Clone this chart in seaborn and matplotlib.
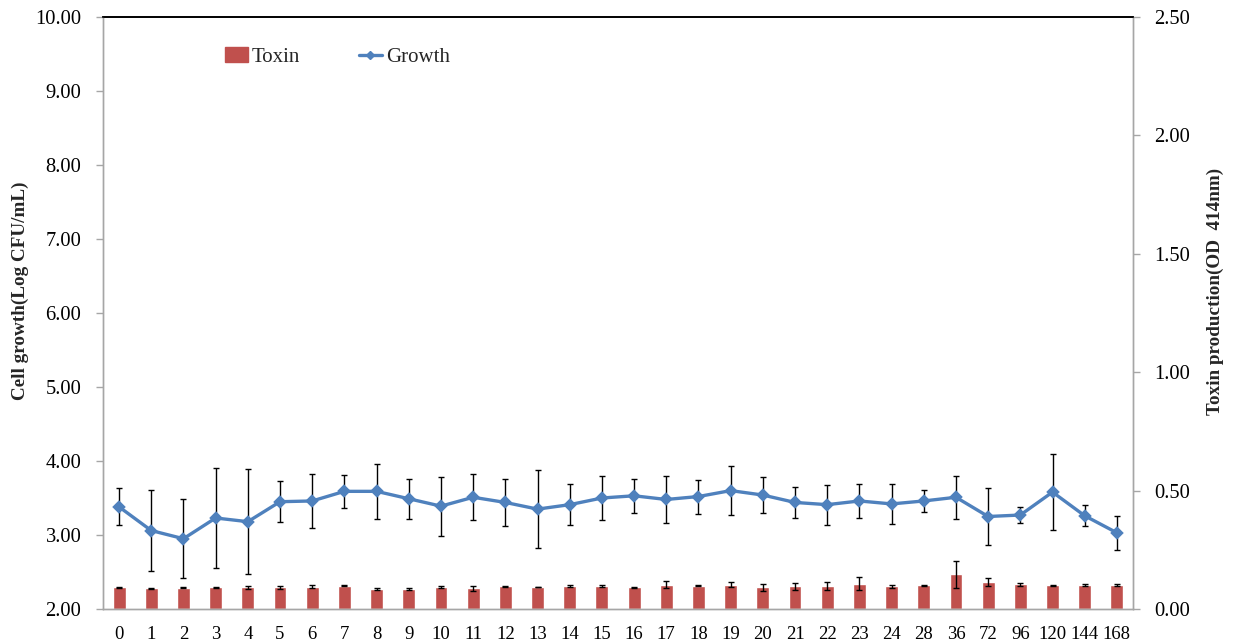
import matplotlib
matplotlib.use("Agg")
import matplotlib.pyplot as plt
from matplotlib.lines import Line2D
from matplotlib.patches import Patch
import numpy as np
import pandas as pd
import seaborn as sns

# Sampling times (h)
hours = ["0", "1", "2", "3", "4", "5", "6", "7", "8", "9", "10", "11", "12",
         "13", "14", "15", "16", "17", "18", "19", "20", "21", "22", "23",
         "24", "28", "36", "72", "96", "120", "144", "168"]

# Cell growth (Log CFU/mL), mean and standard deviation
growth = [3.38, 3.06, 2.95, 3.23, 3.18, 3.45, 3.46, 3.59, 3.59, 3.49, 3.39,
          3.51, 3.44, 3.35, 3.41, 3.50, 3.53, 3.48, 3.52, 3.60, 3.54, 3.44,
          3.41, 3.46, 3.42, 3.46, 3.51, 3.25, 3.27, 3.58, 3.26, 3.03]
growth_sd = [0.25, 0.55, 0.53, 0.68, 0.71, 0.28, 0.36, 0.22, 0.37, 0.27, 0.40,
             0.31, 0.32, 0.53, 0.28, 0.30, 0.23, 0.32, 0.23, 0.33, 0.24, 0.21,
             0.27, 0.23, 0.27, 0.145, 0.29, 0.38, 0.105, 0.51, 0.145, 0.23]

# Toxin production (OD 414nm), mean and standard deviation
toxin = [0.091, 0.087, 0.089, 0.091, 0.091, 0.091, 0.095, 0.098, 0.084, 0.084,
         0.093, 0.087, 0.096, 0.093, 0.096, 0.096, 0.091, 0.103, 0.098, 0.103,
         0.091, 0.096, 0.098, 0.107, 0.096, 0.100, 0.146, 0.114, 0.104, 0.100,
         0.100, 0.100]
toxin_sd = [0.004, 0.003, 0.002, 0.004, 0.008, 0.005, 0.008, 0.002, 0.003,
            0.003, 0.004, 0.010, 0.002, 0.002, 0.004, 0.004, 0.003, 0.015,
            0.002, 0.012, 0.013, 0.014, 0.018, 0.027, 0.007, 0.002, 0.058,
            0.015, 0.006, 0.002, 0.004, 0.004]

df = pd.DataFrame({"hour": hours, "growth": growth, "growth_sd": growth_sd,
                   "toxin": toxin, "toxin_sd": toxin_sd})

sns.set_theme(style="white")
plt.rcParams["font.family"] = ["Liberation Serif", "DejaVu Serif"]

RED = "#C0504D"
BLUE = "#4F81BD"
GRAY = "#A6A6A6"

fig = plt.figure(figsize=(12.35, 6.42), dpi=100)
ax = fig.add_axes([0.0834, 0.0514, 0.834, 0.9221])
ax2 = ax.twinx()

# Toxin bars on the right-hand axis, drawn underneath the growth curve
ax.set_zorder(ax2.get_zorder() + 1)
ax.patch.set_visible(False)

sns.barplot(data=df, x="hour", y="toxin", order=hours, color=RED,
            saturation=1, width=0.4, ax=ax2, errorbar=None)
pos = np.arange(len(hours))
ax2.errorbar(pos, df["toxin"], yerr=df["toxin_sd"], fmt="none",
             ecolor="black", elinewidth=1, capsize=2.5, capthick=1)

sns.pointplot(data=df, x="hour", y="growth", order=hours, color=BLUE,
              markers="D", markersize=5, linewidth=2.4, errorbar=None, ax=ax)
ax.errorbar(pos, df["growth"], yerr=df["growth_sd"], fmt="none",
            ecolor="black", elinewidth=1, capsize=2.5, capthick=1, zorder=1)

ax.set_xlim(-0.5, len(hours) - 0.5)
ax.set_ylim(2, 10)
ax.set_yticks(np.arange(2, 10.01, 1))
ax.set_yticklabels([f"{v:.2f}" for v in np.arange(2, 10.01, 1)])
ax2.set_ylim(0, 2.5)
ax2.set_yticks(np.arange(0, 2.51, 0.5))
ax2.set_yticklabels([f"{v:.2f}" for v in np.arange(0, 2.51, 0.5)])

# Category boundaries carry the x tick marks
ax.set_xticks(pos)
ax.set_xticklabels(hours)
ax.set_xticks(np.arange(-0.5, len(hours), 1), minor=True)
ax.tick_params(axis="x", which="major", length=0, pad=12, labelsize=13.5,
               labelcolor="black")
ax.tick_params(axis="x", which="minor", length=5, width=1, color=GRAY,
               direction="out")
ax.tick_params(axis="y", length=5, width=1, color=GRAY, direction="out",
               labelsize=14.8, labelcolor="black", pad=10.5, left=True)
ax2.tick_params(axis="y", length=5, width=1, color=GRAY, direction="out",
                labelsize=14.8, labelcolor="black", pad=10, right=True)

ax.set_xlabel("")
ax.set_ylabel("Cell growth(Log CFU/mL)", fontsize=13.8, fontweight="bold")
ax2.set_ylabel("Toxin production(OD  414nm)", fontsize=13.8,
               fontweight="bold")
ax.yaxis.set_label_coords(-0.0715, 0.537)
ax2.yaxis.set_label_coords(1.0718, 0.537)

for a in (ax, ax2):
    for side in ("left", "right", "bottom"):
        a.spines[side].set_color(GRAY)
        a.spines[side].set_linewidth(1)
    a.spines["top"].set_color("black")
    a.spines["top"].set_linewidth(1.2)
    a.grid(False)

handles = [Patch(facecolor=RED, edgecolor=RED),
           Line2D([0], [0], color=BLUE, lw=2.4, marker="D", markersize=4)]
fig.legend(handles, ["Toxin", "Growth"], loc="center left",
           bbox_to_anchor=(0.167, 0.911), ncol=2, frameon=False,
           fontsize=15, handlelength=1.1, handletextpad=0.2,
           columnspacing=2.8)

fig.savefig("out.png", dpi=100)
